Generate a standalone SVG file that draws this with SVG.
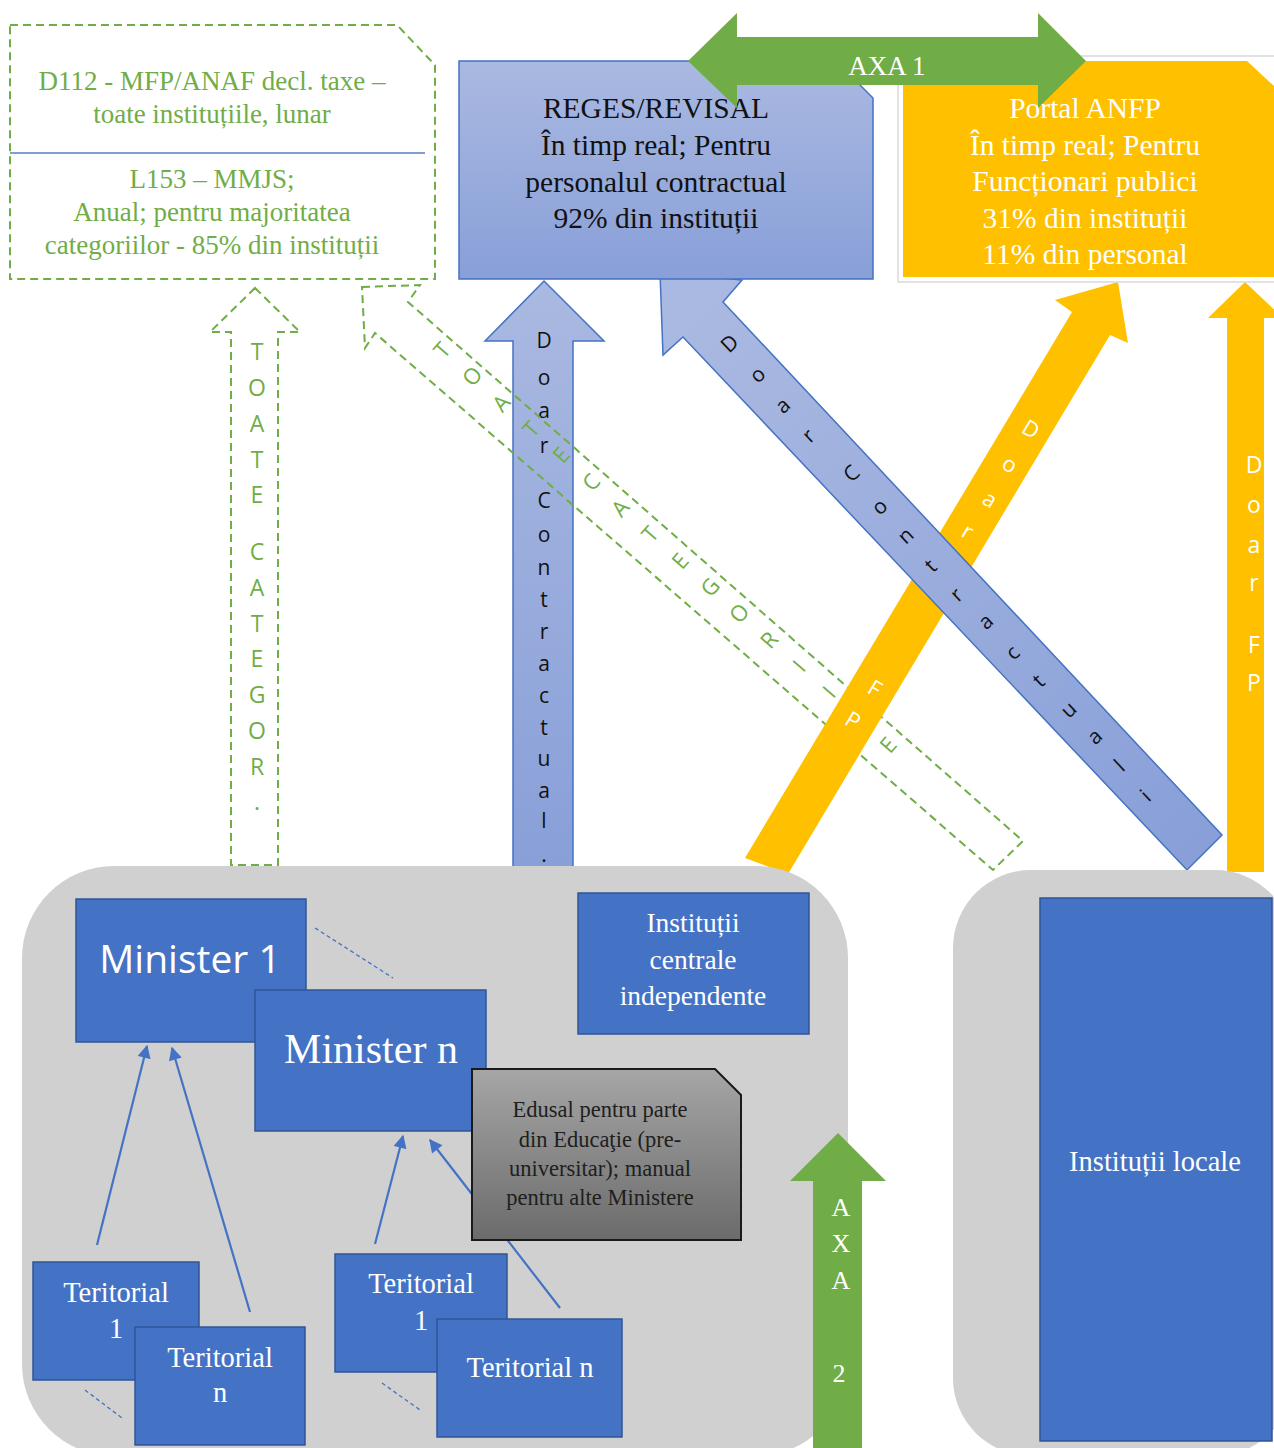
<svg xmlns="http://www.w3.org/2000/svg" width="1274" height="1448" viewBox="0 0 1274 1448">
<defs>
<style>
.serif{font-family:"Liberation Serif","Times New Roman",serif;}
.sans{font-family:"Open Sans","Liberation Sans",Arial,sans-serif;}
.gtxt{fill:#70AD47;}
.wtxt{fill:#ffffff;}
.btxt{fill:#111111;}
.box{fill:#4472C4;stroke:#2F5597;stroke-width:1.5;}
.dash{fill:none;stroke:#70AD47;stroke-width:2;stroke-dasharray:8 5;}
.thin{stroke:#4472C4;stroke-width:2.2;fill:none;}
.dots{stroke:#4472C4;stroke-width:1.3;stroke-dasharray:4 3;fill:none;}
.mid{text-anchor:middle;}
</style>
<linearGradient id="gBlue" x1="0" y1="0" x2="0" y2="1">
<stop offset="0" stop-color="#AAB9E1"/>
<stop offset="1" stop-color="#889FD8"/>
</linearGradient>
<linearGradient id="gBlueD" gradientUnits="userSpaceOnUse" x1="700" y1="300" x2="1200" y2="850">
<stop offset="0" stop-color="#AAB9E1"/>
<stop offset="1" stop-color="#889FD8"/>
</linearGradient>
<linearGradient id="gGray" x1="0" y1="0" x2="0" y2="1">
<stop offset="0" stop-color="#A6A6A6"/>
<stop offset="1" stop-color="#6B6B6B"/>
</linearGradient>
<marker id="ah" viewBox="0 0 10 10" refX="9" refY="5" markerWidth="6.5" markerHeight="6" orient="auto" markerUnits="strokeWidth">
<path d="M0,0 L10,5 L0,10 z" fill="#4472C4"/>
</marker>
</defs>

<g id="connectors">
<g id="arrow-toate-vertical">
<polygon class="dash" points="255,288 300,332 278,332 278,865 231,865 231,332 210,332"/>
<g class="sans gtxt mid" font-size="23">
<text x="257" y="360">T</text>
<text x="257" y="396">O</text>
<text x="257" y="432">A</text>
<text x="257" y="468">T</text>
<text x="257" y="503">E</text>
<text x="257" y="560">C</text>
<text x="257" y="596">A</text>
<text x="257" y="632">T</text>
<text x="257" y="667">E</text>
<text x="257" y="703">G</text>
<text x="257" y="739">O</text>
<text x="257" y="775">R</text>
<text x="257" y="810">.</text>
</g>
</g>

<g id="arrow-contractual-vertical">
<polygon points="544,281 604,341 573,341 573,868 513,868 513,341 485,341" fill="url(#gBlue)" stroke="#4472C4" stroke-width="1.5"/>
<g class="sans btxt mid" font-size="21">
<text x="544" y="348">D</text>
<text x="544" y="385">o</text>
<text x="544" y="418">a</text>
<text x="544" y="453">r</text>
<text x="544" y="508">C</text>
<text x="544" y="542">o</text>
<text x="544" y="575">n</text>
<text x="544" y="607">t</text>
<text x="544" y="639">r</text>
<text x="544" y="671">a</text>
<text x="544" y="703">c</text>
<text x="544" y="735">t</text>
<text x="544" y="766">u</text>
<text x="544" y="798">a</text>
<text x="544" y="828">l</text>
<text x="544" y="862">.</text>
</g>
</g>

<g id="arrow-toate-diagonal">
<polygon class="dash" points="362,287 420,285 408,302 1023,841 993,870 375,333 365,348"/>
<g class="sans gtxt mid" font-size="22">
<text transform="translate(442,350) rotate(-49)" y="8">T</text>
<text transform="translate(472,376) rotate(-49)" y="8">O</text>
<text transform="translate(501,403) rotate(-49)" y="8">A</text>
<text transform="translate(531,429) rotate(-49)" y="8">T</text>
<text transform="translate(561,455) rotate(-49)" y="8">E</text>
<text transform="translate(591,482) rotate(-49)" y="8">C</text>
<text transform="translate(620,508) rotate(-49)" y="8">A</text>
<text transform="translate(650,534) rotate(-49)" y="8">T</text>
<text transform="translate(680,561) rotate(-49)" y="8">E</text>
<text transform="translate(710,587) rotate(-49)" y="8">G</text>
<text transform="translate(739,613) rotate(-49)" y="8">O</text>
<text transform="translate(769,640) rotate(-49)" y="8">R</text>
<text transform="translate(799,666) rotate(-49)" y="8">I</text>
<text transform="translate(829,692) rotate(-49)" y="8">I</text>
<text transform="translate(888,745) rotate(-49)" y="8">E</text>
</g>
</g>

<g id="arrow-fp-diagonal">
<polygon points="1118,282 1128,343 1110,335 788,874 745,858 1072,312 1055,300" fill="#FFC000"/>
<g class="sans wtxt mid" font-size="22">
<text transform="translate(1031,429) rotate(31)" y="8">D</text>
<text transform="translate(1010,464) rotate(31)" y="8">o</text>
<text transform="translate(990,499) rotate(31)" y="8">a</text>
<text transform="translate(968,531) rotate(31)" y="8">r</text>
<text transform="translate(875,688) rotate(31)" y="8">F</text>
<text transform="translate(853,720) rotate(31)" y="8">P</text>
</g>
</g>

<g id="arrow-contractual-diagonal">
<polygon points="660,272 742,280 723,302 1222,835 1187,870 683,337 663,355" fill="url(#gBlueD)" stroke="#4472C4" stroke-width="1.5"/>
<g class="sans btxt mid" font-size="21">
<text transform="translate(729,343) rotate(-43)" y="8">D</text>
<text transform="translate(757,374) rotate(-43)" y="8">o</text>
<text transform="translate(782,405) rotate(-43)" y="8">a</text>
<text transform="translate(808,435) rotate(-43)" y="8">r</text>
<text transform="translate(851,473) rotate(-43)" y="8">C</text>
<text transform="translate(879,506) rotate(-43)" y="8">o</text>
<text transform="translate(905,535) rotate(-43)" y="8">n</text>
<text transform="translate(930,565) rotate(-43)" y="8">t</text>
<text transform="translate(956,594) rotate(-43)" y="8">r</text>
<text transform="translate(985,621) rotate(-43)" y="8">a</text>
<text transform="translate(1012,652) rotate(-43)" y="8">c</text>
<text transform="translate(1038,680) rotate(-43)" y="8">t</text>
<text transform="translate(1068,709) rotate(-43)" y="8">u</text>
<text transform="translate(1094,736) rotate(-43)" y="8">a</text>
<text transform="translate(1119,765) rotate(-43)" y="8">l</text>
<text transform="translate(1145,795) rotate(-43)" y="8">i</text>
</g>
</g>

<g id="arrow-fp-vertical">
<polygon points="1245,282 1283,318 1264,318 1264,872 1227,872 1227,318 1208,318" fill="#FFC000"/>
<g class="sans wtxt mid" font-size="23">
<text x="1254" y="473">D</text>
<text x="1254" y="513">o</text>
<text x="1254" y="553">a</text>
<text x="1254" y="591">r</text>
<text x="1254" y="653">F</text>
<text x="1254" y="691">P</text>
</g>
</g>
</g>

<g id="central-region">
<rect x="22" y="866" width="826" height="590" rx="92" ry="92" fill="#D0D0D0"/>
</g>
<g id="local-region">
<rect x="953" y="870" width="340" height="586" rx="78" ry="78" fill="#D0D0D0"/>
</g>

<g id="node-d112">
<polygon class="dash" points="10,25 397,25 435,65 435,279 10,279" fill="#ffffff"/>
<line x1="10" y1="153" x2="425" y2="153" stroke="#7F9ED4" stroke-width="2"/>
<g class="serif gtxt mid" font-size="27">
<text x="212" y="90">D112 - MFP/ANAF decl. taxe –</text>
<text x="212" y="123">toate instituțiile, lunar</text>
<text x="212" y="188">L153 – MMJS;</text>
<text x="212" y="221">Anual; pentru majoritatea</text>
<text x="212" y="254">categoriilor - 85% din instituții</text>
</g>
</g>

<g id="node-reges">
<polygon points="459,61 836,61 873,98 873,279 459,279" fill="url(#gBlue)" stroke="#4472C4" stroke-width="1.5"/>
<g class="serif btxt mid" font-size="29.5">
<text x="656" y="118">REGES/REVISAL</text>
<text x="656" y="155">În timp real; Pentru</text>
<text x="656" y="192">personalul contractual</text>
<text x="656" y="228">92% din instituții</text>
</g>
</g>

<g id="node-anfp">
<rect x="898" y="56" width="390" height="226" fill="#ffffff" stroke="#D9D9D9" stroke-width="1.5"/>
<polygon points="903,61 1247,61 1274,86 1274,277 903,277" fill="#FFC000"/>
<g class="serif wtxt mid" font-size="29.5">
<text x="1085" y="118">Portal ANFP</text>
<text x="1085" y="155">În timp real; Pentru</text>
<text x="1085" y="191">Funcționari publici</text>
<text x="1085" y="228">31% din instituții</text>
<text x="1085" y="264">11% din personal</text>
</g>
</g>

<g id="axa1">
<polygon points="688,61 737,13 737,37 1038,37 1038,13 1086,61 1038,108 1038,85 737,85 737,108" fill="#70AD47"/>
<text class="serif wtxt mid" x="887" y="75" font-size="27">AXA 1</text>
</g>

<g id="inner-connectors">
<line class="thin" x1="97" y1="1245" x2="147" y2="1046" marker-end="url(#ah)"/>
<line class="thin" x1="250" y1="1312" x2="172" y2="1048" marker-end="url(#ah)"/>
<line class="thin" x1="375" y1="1244" x2="403" y2="1136" marker-end="url(#ah)"/>
<line class="thin" x1="560" y1="1308" x2="430" y2="1140" marker-end="url(#ah)"/>
<line class="dots" x1="315" y1="928" x2="393" y2="978"/>
<line class="dots" x1="85" y1="1390" x2="122" y2="1418"/>
<line class="dots" x1="382" y1="1383" x2="420" y2="1410"/>
</g>

<g id="node-minister1">
<rect class="box" x="76" y="899" width="230" height="143"/>
<text class="sans wtxt mid" x="190" y="973" font-size="39">Minister 1</text>
</g>
<g id="node-ministern">
<rect class="box" x="255" y="990" width="231" height="141"/>
<text class="serif wtxt mid" x="371" y="1063" font-size="42">Minister n</text>
</g>
<g id="node-centrale">
<rect class="box" x="578" y="893" width="231" height="141"/>
<g class="serif wtxt mid" font-size="27.5">
<text x="693" y="932">Instituții</text>
<text x="693" y="969">centrale</text>
<text x="693" y="1005">independente</text>
</g>
</g>
<g id="node-edusal">
<polygon points="472,1069 715,1069 741,1095 741,1240 472,1240" fill="url(#gGray)" stroke="#1a1a1a" stroke-width="2"/>
<g class="serif mid" fill="#1e1e1e" font-size="22.5">
<text x="600" y="1117">Edusal pentru parte</text>
<text x="600" y="1147">din Educaţie (pre-</text>
<text x="600" y="1176">universitar); manual</text>
<text x="600" y="1205">pentru alte Ministere</text>
</g>
</g>
<g id="node-ter1-left">
<rect class="box" x="33" y="1262" width="166" height="118"/>
<g class="serif wtxt mid" font-size="28.5">
<text x="116" y="1302">Teritorial</text>
<text x="116" y="1338">1</text>
</g>
</g>
<g id="node-tern-left">
<rect class="box" x="135" y="1327" width="170" height="118"/>
<g class="serif wtxt mid" font-size="28.5">
<text x="220" y="1367">Teritorial</text>
<text x="220" y="1402">n</text>
</g>
</g>
<g id="node-ter1-mid">
<rect class="box" x="335" y="1254" width="172" height="118"/>
<g class="serif wtxt mid" font-size="28.5">
<text x="421" y="1293">Teritorial</text>
<text x="421" y="1330">1</text>
</g>
</g>
<g id="node-tern-mid">
<rect class="box" x="437" y="1319" width="185" height="118"/>
<text class="serif wtxt mid" x="530" y="1377" font-size="28.5">Teritorial n</text>
</g>
<g id="node-locale">
<rect class="box" x="1040" y="898" width="232" height="543"/>
<text class="serif wtxt mid" x="1155" y="1171" font-size="28.5">Instituții locale</text>
</g>

<g id="axa2">
<polygon points="838,1133 886,1181 862,1181 862,1450 813,1450 813,1181 790,1181" fill="#70AD47"/>
<g class="serif wtxt mid" font-size="26">
<text x="841" y="1216">A</text>
<text x="841" y="1252">X</text>
<text x="841" y="1289">A</text>
<text x="839" y="1382">2</text>
</g>
</g>
</svg>
